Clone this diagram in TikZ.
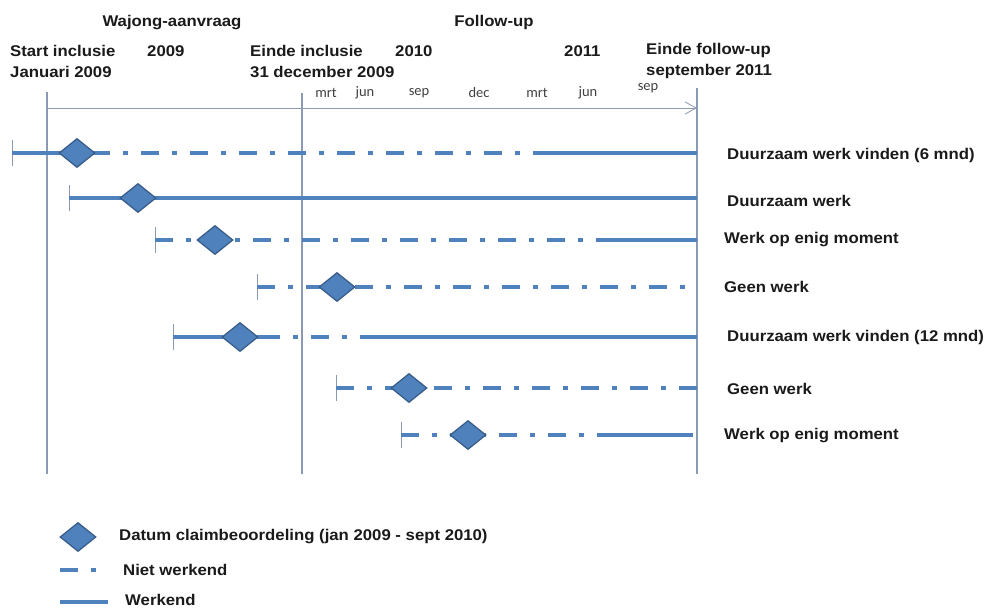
\documentclass[tikz,border=0pt]{standalone}
\usepackage{fontspec}
\setmainfont{Liberation Sans}[FakeStretch=1.08]
\newfontfamily\monthfont{Carlito}
\usetikzlibrary{shapes.geometric,arrows.meta}
\definecolor{lineblue}{HTML}{4F81BD}
\definecolor{darkblue}{HTML}{385D8A}
\definecolor{axisgray}{HTML}{8A9AB2}
\definecolor{textblack}{HTML}{1A1A1A}

\begin{document}
\begin{tikzpicture}[x=1pt, y=-1pt, textblack,
    work/.style = {lineblue, line width=4.8pt},
    nowork/.style = {work, dash pattern=on 18pt off 13pt on 5pt off 13pt},
    afterwork/.style = {nowork, dash phase=18pt},
    claim/.style = {diamond, draw=darkblue, fill=lineblue, line width=1.3pt, minimum width=36pt, minimum height=29pt, inner sep=0pt},
    axis/.style = {axisgray, line width=1.1pt},
    tick/.style = {axisgray, line width=1pt},
    head/.style = {font=\bfseries\fontsize{15.5}{21}\selectfont, align=left, inner sep=0pt},
    lab/.style = {font=\bfseries\fontsize{15.5}{19}\selectfont, anchor=west, inner sep=0pt},
    month/.style = {font=\monthfont\fontsize{14.5}{16}\selectfont, text=black!75, inner sep=0pt}]
    \useasboundingbox (0,0) rectangle (987,610);

    % headings
    \node[head] (wajong) at (172,23) {Wajong-aanvraag};
    \node[head] (follow) at (494,22) {Follow-up};
    \node[head, anchor=west] (start) at (10,61) {Start inclusie\\Januari 2009};
    \node[head, anchor=west] (einde) at (250,61) {Einde inclusie\\31 december 2009};
    \node[head, anchor=west] (eindefu) at (646,61) {Einde follow-up\\september 2011};
    \node[head, anchor=west] (y2009) at (147,51) {2009};
    \node[head, anchor=west] (y2010) at (395,51) {2010};
    \node[head, anchor=west] (y2011) at (564,51) {2011};

    % months
    \node[month] (m1) at (326,93) {mrt};
    \node[month] (m2) at (365,93) {jun};
    \node[month] (m3) at (419,93) {sep};
    \node[month] (m4) at (479,93) {dec};
    \node[month] (m5) at (537,93) {mrt};
    \node[month] (m6) at (588,93) {jun};
    \node[month] (m7) at (648,88) {sep};

    % time axis
    \coordinate (a0) at (47,92);   \coordinate (b0) at (47,474);
    \coordinate (a1) at (302,93);  \coordinate (b1) at (302,474);
    \coordinate (a2) at (697,88);  \coordinate (b2) at (697,474);
    \coordinate (t0) at (47,108);  \coordinate (t1) at (697,108);
    \draw[axis] (a0) -- (b0);
    \draw[axis] (a1) -- (b1);
    \draw[axis] (a2) -- (b2);
    \draw[axis, line width=0.8pt, -{Straight Barb[length=11pt, width=12pt, line width=0.8pt]}] (t0) -- (t1);

    % trajectories
    \foreach \y/\s in {153/12, 198/69, 240/155, 287/257, 337/173, 388/336, 435/401}
        \draw[tick] (\s,\y-13) -- (\s,\y+13);

    \draw[work] (12,153) -- (110,153);
    \draw[afterwork] (110,153) -- (540,153);
    \draw[work] (540,153) -- (697,153);
    \draw[work] (69,198) -- (697,198);
    \draw[nowork] (155,240) -- (600,240);
    \draw[work] (600,240) -- (697,240);
    \draw[nowork] (257,287) -- (697,287);
    \draw[work] (173,337) -- (280,337);
    \draw[afterwork] (280,337) -- (360,337);
    \draw[work] (360,337) -- (697,337);
    \draw[nowork] (336,388) -- (697,388);
    \draw[nowork] (401,435) -- (597,435);
    \draw[work] (597,435) -- (693,435);

    \node[claim] (c1) at (77,153) {};
    \node[claim] (c2) at (138,198) {};
    \node[claim] (c3) at (215,240) {};
    \node[claim] (c4) at (337,287) {};
    \node[claim] (c5) at (240,337) {};
    \node[claim] (c6) at (409,388) {};
    \node[claim] (c7) at (468,435) {};

    \node[lab] (r1) at (727,155) {Duurzaam werk vinden (6 mnd)};
    \node[lab] (r2) at (727,201) {Duurzaam werk};
    \node[lab] (r3) at (724,240) {Werk op enig moment};
    \node[lab] (r4) at (724,287) {Geen werk};
    \node[lab] (r5) at (727,337) {Duurzaam werk vinden (12 mnd)};
    \node[lab] (r6) at (727,389) {Geen werk};
    \node[lab] (r7) at (724,436) {Werk op enig moment};

    % legend
    \node[claim] (lc) at (78,537) {};
    \node[lab] (l1) at (119,537) {Datum claimbeoordeling (jan 2009 - sept 2010)};
    \coordinate (ln0) at (60,570);  \coordinate (ln1) at (96,570);
    \draw[nowork] (ln0) -- (ln1);
    \node[lab] (l2) at (123,570) {Niet werkend};
    \coordinate (lw0) at (60,602);  \coordinate (lw1) at (108,602);
    \draw[work] (lw0) -- (lw1);
    \node[lab] (l3) at (125,600) {Werkend};
\end{tikzpicture}
\end{document}
